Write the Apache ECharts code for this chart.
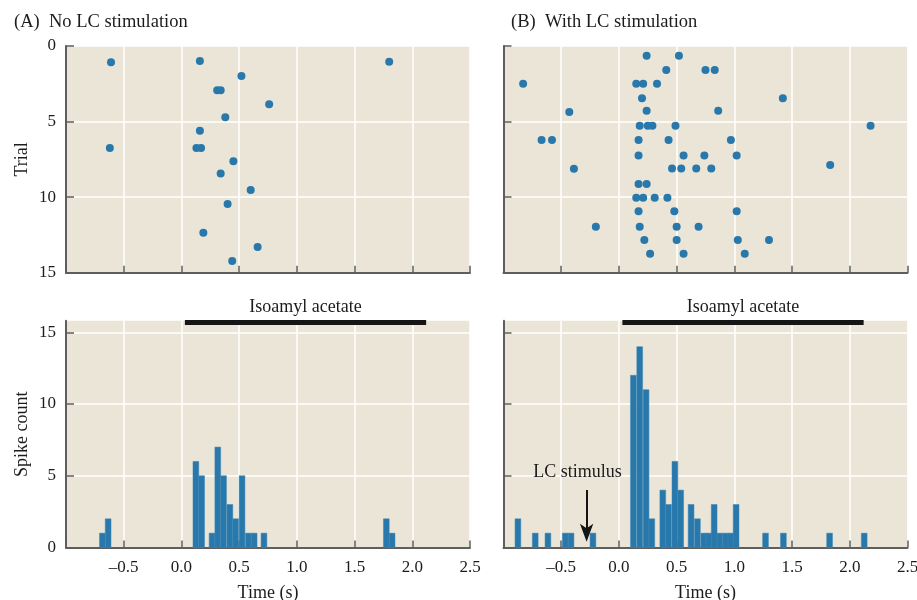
<!DOCTYPE html>
<html>
<head>
<meta charset="utf-8">
<script src="https://cdn.jsdelivr.net/npm/echarts@6/dist/echarts.min.js"></script>
<style>
  html, body { margin: 0; padding: 0; background: #ffffff; }
  #chart { width: 917px; height: 600px; }
</style>
</head>
<body>
<div id="chart"></div>
<script>
// Spike rasters (time in s, trial number) and peri-stimulus histograms
// for a mitral cell, without and with locus coeruleus (LC) stimulation.

// (A) No LC stimulation: raster
const noStimTimes  = [-0.61, 0.16, 1.80, 0.52, 0.31, 0.34, 0.76, 0.38, 0.16, -0.62, 0.13, 0.17, 0.45, 0.34, 0.60, 0.40, 0.19, 0.66, 0.44];
const noStimTrials = [1.08, 0.99, 1.04, 1.99, 2.93, 2.93, 3.86, 4.72, 5.60, 6.75, 6.75, 6.75, 7.63, 8.43, 9.53, 10.46, 12.35, 13.30, 14.23];

// (B) With LC stimulation: raster
const lcTimes  = [0.24, 0.52, 0.41, 0.75, 0.83, -0.83, 0.15, 0.21, 0.33, 0.20, 1.42, -0.43, 0.24, 0.86,
                  0.18, 0.25, 0.29, 0.49, 2.18, -0.67, -0.58, 0.17, 0.43, 0.97, 0.17, 0.56, 0.74, 1.02,
                  -0.39, 0.46, 0.54, 0.67, 0.80, 1.83, 0.17, 0.24, 0.15, 0.21, 0.31, 0.42, 0.17, 0.48,
                  1.02, -0.20, 0.18, 0.50, 0.69, 0.22, 0.50, 1.03, 1.30, 0.27, 0.56, 1.09];
const lcTrials = [0.64, 0.64, 1.59, 1.59, 1.59, 2.49, 2.49, 2.49, 2.49, 3.46, 3.46, 4.37, 4.28, 4.28,
                  5.27, 5.27, 5.27, 5.27, 5.27, 6.22, 6.22, 6.22, 6.22, 6.22, 7.24, 7.24, 7.24, 7.24,
                  8.12, 8.10, 8.10, 8.10, 8.10, 7.88, 9.13, 9.13, 10.04, 10.04, 10.04, 10.04, 10.94, 10.94,
                  10.94, 11.96, 11.96, 11.96, 11.96, 12.84, 12.84, 12.84, 12.84, 13.74, 13.74, 13.74];

// Histograms: left edge of each 50 ms bin (s) and spike count
const binWidth = 0.05;
const noStimBinStart = [-0.71, -0.66, 0.10, 0.15, 0.24, 0.29, 0.34, 0.395, 0.445, 0.50, 0.555, 0.605, 0.69, 1.75, 1.80];
const noStimCounts   = [1, 2, 6, 5, 1, 7, 5, 3, 2, 5, 1, 1, 1, 2, 1];
const lcBinStart = [-0.90, -0.75, -0.64, -0.49, -0.44, -0.25, 0.10, 0.155, 0.21, 0.26, 0.355, 0.405, 0.46, 0.51,
                    0.60, 0.655, 0.71, 0.755, 0.80, 0.85, 0.90, 0.945, 0.99, 1.245, 1.40, 1.80, 2.10];
const lcCounts   = [2, 1, 1, 1, 1, 1, 12, 14, 11, 2, 4, 3, 6, 4,
                    3, 2, 1, 1, 3, 1, 1, 1, 3, 1, 1, 1, 1];

// Odor period (s) and the height of its bar on the count axis
const odorOn = 0.03, odorOff = 2.12, odorLevel = 15.67;
// LC stimulus marker: time (s), arrow tail and tip on the count axis
const lcStimTime = -0.28, lcArrowTop = 4.0, lcArrowTip = 0.4;

// Axis ticks
const timeTicks  = { min: -1.0, max: 2.5, step: 0.5 };
const trialTicks = { min: 0, max: 15, step: 5 };
const countTicks = [0, 5, 10, 15];
const countMax = 15.8;

const FONT = 'Liberation Serif';
const INK = '#1c1c1c';
const AXIS = '#5e5e5e';
const PANEL_BG = '#ebe5d7';
const BLUE = '#2878ab';

const zip = (a, b) => a.map((v, i) => [v, b[i]]);

function timeAxis(gridIndex, showLabels) {
  return {
    type: 'value', gridIndex,
    min: timeTicks.min, max: timeTicks.max, interval: timeTicks.step,
    axisLine: { show: true, onZero: false, lineStyle: { color: AXIS, width: 2 } },
    axisTick: { show: true, inside: true, length: 7, lineStyle: { color: AXIS, width: 1.5 } },
    splitLine: { show: true, lineStyle: { color: '#ffffff', width: 1.5 } },
    axisLabel: {
      show: showLabels, margin: 12, color: INK, fontFamily: FONT, fontSize: 17,
      formatter: v => (Math.abs(v - timeTicks.min) < 1e-9 ? '' : (v < 0 ? '\u2013' + Math.abs(v).toFixed(1) : v.toFixed(1)))
    },
    name: showLabels ? 'Time (s)' : '',
    nameLocation: 'middle', nameGap: 37,
    nameTextStyle: { color: INK, fontFamily: FONT, fontSize: 18 }
  };
}

function trialAxis(gridIndex, showLabels) {
  return {
    type: 'value', gridIndex, inverse: true,
    min: trialTicks.min, max: trialTicks.max, interval: trialTicks.step,
    axisLine: { show: true, onZero: false, lineStyle: { color: AXIS, width: 2 } },
    axisTick: { show: true, inside: true, length: 8, lineStyle: { color: AXIS, width: 1.5 } },
    splitLine: { show: true, lineStyle: { color: '#ffffff', width: 1.5 } },
    axisLabel: { show: showLabels, margin: 10, color: INK, fontFamily: FONT, fontSize: 17 },
    name: showLabels ? 'Trial' : '',
    nameLocation: 'middle', nameGap: 35,
    nameTextStyle: { color: INK, fontFamily: FONT, fontSize: 18 }
  };
}

function countAxis(gridIndex, showLabels) {
  return {
    type: 'value', gridIndex,
    min: 0, max: countMax, interval: 5,
    axisLine: { show: true, onZero: false, lineStyle: { color: AXIS, width: 2 } },
    axisTick: { show: true, inside: true, length: 8, customValues: countTicks, lineStyle: { color: AXIS, width: 1.5 } },
    splitLine: { show: true, lineStyle: { color: '#ffffff', width: 1.5 } },
    axisLabel: { show: showLabels, customValues: countTicks, margin: 10, color: INK, fontFamily: FONT, fontSize: 17 },
    name: showLabels ? 'Spike count' : '',
    nameLocation: 'middle', nameGap: 35,
    nameTextStyle: { color: INK, fontFamily: FONT, fontSize: 18 }
  };
}

function histSeries(axisIndex, starts, counts) {
  return {
    type: 'custom', xAxisIndex: axisIndex, yAxisIndex: axisIndex,
    data: zip(starts, counts),
    encode: { x: 0, y: 1 },
    renderItem: (params, api) => {
      const x0 = api.value(0), h = api.value(1);
      const topLeft = api.coord([x0, h]);
      const bottomRight = api.coord([x0 + binWidth, 0]);
      return {
        type: 'rect',
        shape: { x: topLeft[0], y: topLeft[1], width: bottomRight[0] - topLeft[0], height: bottomRight[1] - topLeft[1] },
        style: { fill: BLUE, stroke: '#3b87b7', lineWidth: 0.5 }
      };
    },
    z: 3
  };
}

function odorSeries(axisIndex) {
  return {
    type: 'line', xAxisIndex: axisIndex, yAxisIndex: axisIndex, data: [],
    markLine: {
      silent: true, symbol: ['none', 'none'],
      lineStyle: { color: '#151515', width: 5, type: 'solid' },
      label: {
        show: true, position: 'insideMiddleTop', distance: 6,
        formatter: 'Isoamyl acetate', color: INK, fontFamily: FONT, fontSize: 18
      },
      data: [[{ coord: [odorOn, odorLevel] }, { coord: [odorOff, odorLevel] }]]
    },
    z: 5
  };
}

const panel = (left, top) => ({
  left, top, width: 404, height: 226.7,
  outerBoundsMode: 'none', containLabel: false,
  show: true, backgroundColor: PANEL_BG, borderWidth: 0
});

const option = {
  animation: false,
  backgroundColor: '#ffffff',
  title: [
    { text: '(A)  No LC stimulation', left: 9, top: 8,
      textStyle: { color: INK, fontFamily: FONT, fontSize: 18.5, fontWeight: 'normal' } },
    { text: '(B)  With LC stimulation', left: 506, top: 8,
      textStyle: { color: INK, fontFamily: FONT, fontSize: 18.5, fontWeight: 'normal' } }
  ],
  grid: [panel(66, 46), panel(503.5, 46), panel(66, 320.8), panel(503.5, 320.8)],
  xAxis: [timeAxis(0, false), timeAxis(1, false), timeAxis(2, true), timeAxis(3, true)],
  yAxis: [trialAxis(0, true), trialAxis(1, false), countAxis(2, true), countAxis(3, false)],
  series: [
    { type: 'scatter', xAxisIndex: 0, yAxisIndex: 0, data: zip(noStimTimes, noStimTrials),
      symbolSize: 8, itemStyle: { color: BLUE, opacity: 1 }, z: 3 },
    { type: 'scatter', xAxisIndex: 1, yAxisIndex: 1, data: zip(lcTimes, lcTrials),
      symbolSize: 8, itemStyle: { color: BLUE, opacity: 1 }, z: 3 },
    histSeries(2, noStimBinStart, noStimCounts),
    histSeries(3, lcBinStart, lcCounts),
    odorSeries(2),
    odorSeries(3),
    // LC stimulus: shaft and label
    {
      type: 'line', xAxisIndex: 3, yAxisIndex: 3, data: [],
      markLine: {
        silent: true, symbol: ['none', 'none'],
        lineStyle: { color: '#151515', width: 2, type: 'solid' },
        label: {
          show: true, position: 'start', distance: 9, offset: [-9, 0],
          formatter: 'LC stimulus', color: INK, fontFamily: FONT, fontSize: 18
        },
        data: [[{ coord: [lcStimTime, lcArrowTop] }, { coord: [lcStimTime, lcArrowTip + 0.4] }]]
      },
      z: 6
    },
    // LC stimulus: arrowhead, tip at the data point
    {
      type: 'scatter', xAxisIndex: 3, yAxisIndex: 3,
      data: [[lcStimTime, lcArrowTip]],
      symbol: 'arrow', symbolSize: [10, 18], symbolRotate: 180,
      itemStyle: { color: '#151515', opacity: 1 }, silent: true, z: 7
    }
  ]
};

const chart = echarts.init(document.getElementById('chart'), null, { renderer: 'canvas' });
chart.setOption(option);
</script>
</body>
</html>
